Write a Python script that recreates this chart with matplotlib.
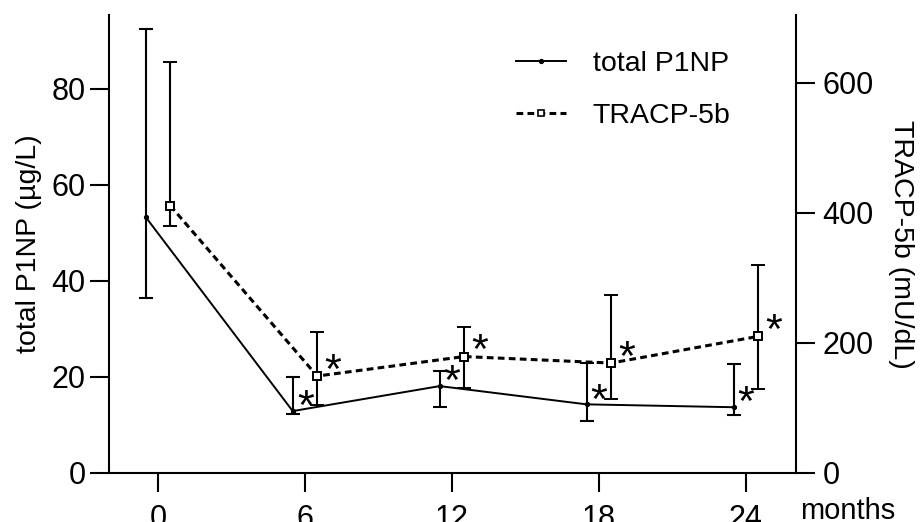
import matplotlib.pyplot as plt
from matplotlib.lines import Line2D
import numpy as np

# Meses de seguimiento
meses = [0, 6, 12, 18, 24]

# total P1NP (µg/L): valor central y extremos de las barras de error
p1np = [53.3, 12.9, 18.1, 14.3, 13.7]
p1np_sup = [92.5, 20.0, 21.3, 22.9, 22.8]
p1np_inf = [36.4, 12.3, 13.7, 10.9, 12.0]

# TRACP-5b (mU/dL)
tracp = [411, 149, 179, 169, 210]
tracp_sup = [631, 216, 224, 274, 319]
tracp_inf = [380, 105, 131, 114, 129]

# Significancia frente al basal
signif = [False, True, True, True, True]

plt.rcParams['font.family'] = ['Liberation Sans', 'DejaVu Sans']

fig = plt.figure(figsize=(9.22, 5.22), dpi=100)
ax = fig.add_axes([109 / 922, 49 / 522, (796 - 109) / 922, (473 - 15) / 522])
ax2 = ax.twinx()

x = np.array(meses, dtype=float)
x1 = x - 0.5
x2 = x + 0.5

err1 = [np.array(p1np) - np.array(p1np_inf), np.array(p1np_sup) - np.array(p1np)]
err2 = [np.array(tracp) - np.array(tracp_inf), np.array(tracp_sup) - np.array(tracp)]

estilo_trazos = (0, (2.2, 1.4))

ax.errorbar(x1, p1np, yerr=err1, color='black', lw=1.4, marker='o', ms=2.8,
            elinewidth=1.5, capsize=5, capthick=1.5)
ax2.errorbar(x2, tracp, yerr=err2, color='black', lw=2.2, ls=estilo_trazos,
             marker='s', ms=6, mfc='white', mew=1.4,
             elinewidth=1.5, capsize=5, capthick=1.5)

# Asteriscos
for xi, yi, s in zip(x1, p1np, signif):
    if s:
        ax.annotate('*', (xi, yi), xytext=(9, 2), textcoords='offset points',
                    fontsize=31, ha='center', va='center')
for xi, yi, s in zip(x2, tracp, signif):
    if s:
        ax2.annotate('*', (xi, yi), xytext=(11, 3), textcoords='offset points',
                     fontsize=31, ha='center', va='center')

ax.set_xlim(-2, 26.05)
ax.set_ylim(0, 95.4)
ax2.set_ylim(0, 704)
ax.set_xticks(meses)
ax.set_yticks([0, 20, 40, 60, 80])
ax2.set_yticks([0, 200, 400, 600])

for a in (ax, ax2):
    a.spines['top'].set_visible(False)
    for sp in a.spines.values():
        sp.set_linewidth(1.5)
ax.spines['right'].set_visible(False)
ax2.spines['left'].set_visible(False)
ax2.spines['bottom'].set_visible(False)

ax.tick_params(axis='both', labelsize=22, width=1.5, length=14, direction='out')
ax.tick_params(axis='x', pad=8)
ax.tick_params(axis='y', pad=3)
ax2.tick_params(axis='y', labelsize=22, width=1.5, length=14, direction='out', pad=5)

ax.set_ylabel('total P1NP (µg/L)', fontsize=20.5, labelpad=7)
ax2.set_ylabel('TRACP-5b (mU/dL)', fontsize=20.5, rotation=-90, labelpad=29)

ax.text(1.006, -0.082, 'months', transform=ax.transAxes, fontsize=21,
        ha='left', va='center')

manejadores = [
    Line2D([], [], color='black', lw=1.4, marker='o', ms=2.8),
    Line2D([], [], color='black', lw=2.2, ls=estilo_trazos, marker='s', ms=5,
           mfc='white', mew=1.2),
]
ax.legend(manejadores, ['total P1NP', 'TRACP-5b'], loc='upper left',
          bbox_to_anchor=(0.592, 0.922), frameon=False, fontsize=20.5,
          borderaxespad=0, borderpad=0,
          handlelength=1.75, handletextpad=0.95, labelspacing=0.92)

fig.savefig('out.png', dpi=100)
